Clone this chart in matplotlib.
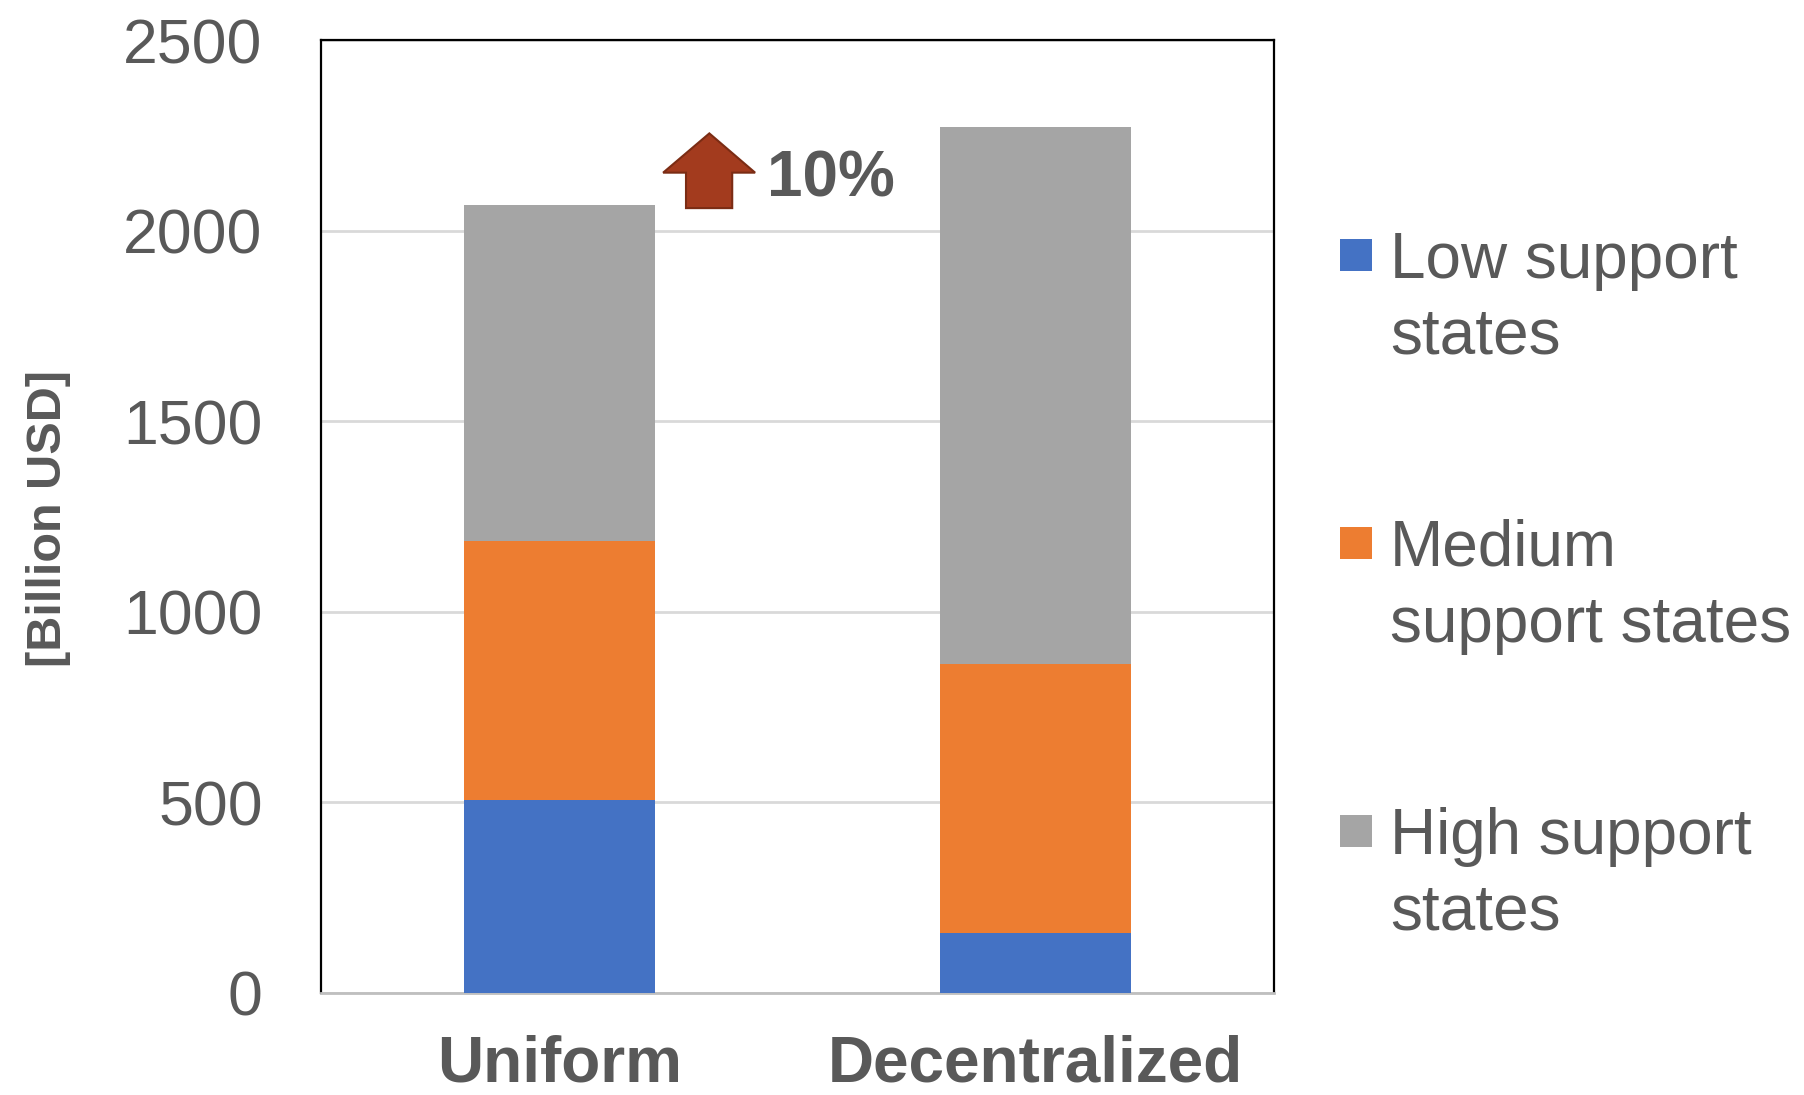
import matplotlib.pyplot as plt
from matplotlib.patches import Polygon, Rectangle
import numpy as np

# Scenario totals split by state support group [Billion USD]
scenarios = ['Uniform', 'Decentralized']
low_support = [507, 157]
medium_support = [680, 706]
high_support = [881, 1408]

group_labels = [['Low support', 'states'],
                ['Medium', 'support states'],
                ['High support', 'states']]
group_colors = ['#4472C4', '#ED7D31', '#A5A5A5']

y_ticks = [0, 500, 1000, 1500, 2000, 2500]
increase_label = '10%'

TEXT = '#595959'
plt.rcParams['font.family'] = ['Liberation Sans', 'DejaVu Sans']

W, H = 1804, 1095
fig = plt.figure(figsize=(W / 100, H / 100), dpi=100)
ax = fig.add_axes([321 / W, 1 - 993 / H, (1274 - 321) / W, (993 - 40) / H])

x = np.arange(len(scenarios))
width = 0.4
bottom = np.zeros(len(scenarios))
for vals, color in zip([low_support, medium_support, high_support], group_colors):
    ax.bar(x, vals, width, bottom=bottom, color=color, zorder=3)
    bottom += np.array(vals)

ax.set_xlim(-0.5, 1.5)
ax.set_ylim(0, 2500)
ax.set_yticks(y_ticks)
ax.set_yticklabels([str(t) for t in y_ticks], fontsize=45, color=TEXT)
ax.tick_params(axis='y', length=0, pad=42)
ax.set_xticks([])
ax.grid(axis='y', color='#D9D9D9', linewidth=2, zorder=0)
ax.set_axisbelow(True)
for side in ['left', 'right', 'top']:
    ax.spines[side].set_color('black')
    ax.spines[side].set_linewidth(1.6)
ax.spines['bottom'].set_color('#BFBFBF')
ax.spines['bottom'].set_linewidth(2)

# category names under the bars
for xi, name in zip(x, scenarios):
    ax.text(xi, -0.093, name, transform=ax.get_xaxis_transform(), ha='center',
            va='baseline', fontsize=46, fontweight='bold', color=TEXT, clip_on=False)

fig.text(49 / W, 1 - 519 / H, '[Billion USD]', rotation=90, ha='center', va='center',
         fontsize=35, fontweight='bold', color=TEXT,
         family=['Liberation Sans Narrow', 'Liberation Sans', 'DejaVu Sans'])

# upward arrow marking the increase of the decentralized total
tip_x, tip_y = 0.315, 2255
arrow = Polygon([(tip_x, tip_y), (tip_x + 0.096, 2152), (tip_x + 0.048, 2152),
                 (tip_x + 0.048, 2059), (tip_x - 0.049, 2059), (tip_x - 0.049, 2152),
                 (tip_x - 0.097, 2152)],
                closed=True, facecolor='#A33B1E', edgecolor='#7B2C14', linewidth=1.5, zorder=4)
ax.add_patch(arrow)
ax.text(0.437, 2134, increase_label, ha='left', va='center', fontsize=46,
        fontweight='bold', color=TEXT, zorder=4)

# legend drawn by hand, square beside the first line of each label
for i, (lines, color) in enumerate(zip(group_labels, group_colors)):
    cy = 255 + i * 288
    fig.patches.append(Rectangle((1340 / W, 1 - (cy + 16) / H), 32 / W, 32 / H,
                                 transform=fig.transFigure, facecolor=color, edgecolor='none'))
    for j, line in enumerate(lines):
        fig.text(1390 / W, 1 - (cy + 23 + j * 76) / H, line, ha='left', va='baseline',
                 fontsize=46, color=TEXT)

fig.savefig('out.png', dpi=100)
